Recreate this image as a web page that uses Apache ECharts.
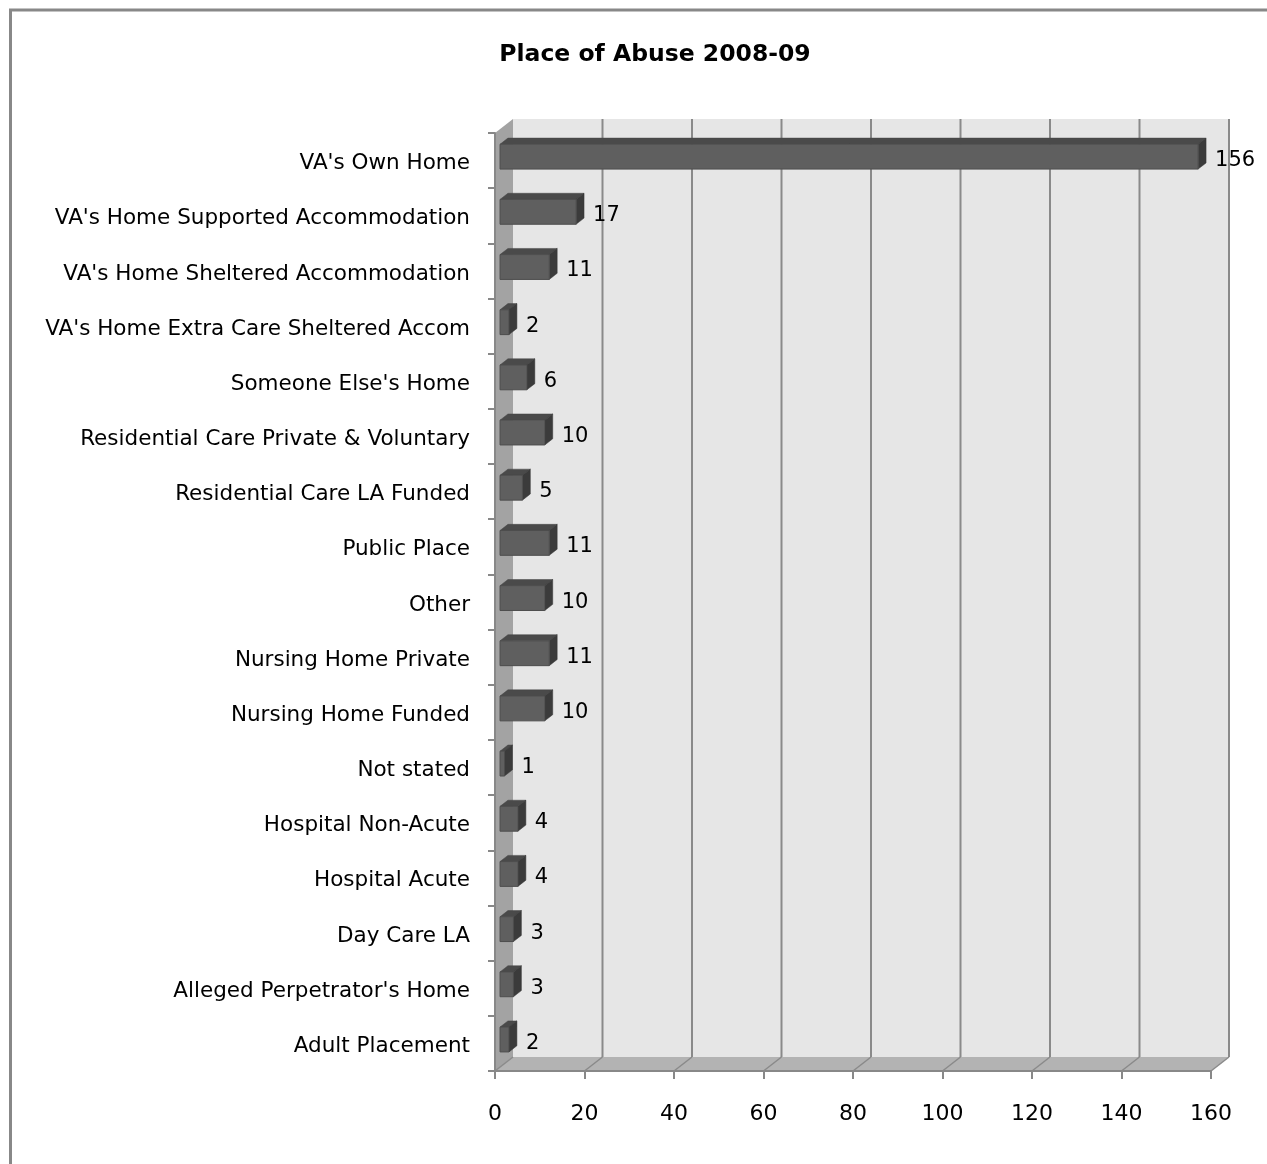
<!DOCTYPE html>
<html>
<head>
<meta charset="utf-8">
<title>Place of Abuse 2008-09</title>
<script src="https://cdn.jsdelivr.net/npm/echarts@6/dist/echarts.min.js"></script>
<style>
  html, body { margin: 0; padding: 0; background: #ffffff; }
  #chart { width: 1267px; height: 1164px; }
</style>
</head>
<body>
<div id="chart"></div>
<script>
// Places where abuse took place, listed top to bottom
const categories = [
  "VA's Own Home",
  "VA's Home Supported Accommodation",
  "VA's Home Sheltered Accommodation",
  "VA's Home Extra Care Sheltered Accom",
  "Someone Else's Home",
  "Residential Care Private & Voluntary",
  "Residential Care LA Funded",
  "Public Place",
  "Other",
  "Nursing Home Private",
  "Nursing Home Funded",
  "Not stated",
  "Hospital Non-Acute",
  "Hospital Acute",
  "Day Care LA",
  "Alleged Perpetrator's Home",
  "Adult Placement"
];
const counts = [156, 17, 11, 2, 6, 10, 5, 11, 10, 11, 10, 1, 4, 4, 3, 3, 2];
const xTicks = [0, 20, 40, 60, 80, 100, 120, 140, 160];

// Oblique projection used for the 3-D look: depth of the plot box
const DX = 18, DY = -14;
// Bars sit in the middle of the depth
const F1 = 0.28, F2 = 0.72;
const BAR_RATIO = 0.45;
const FONT = '"DejaVu Sans", "Open Sans", sans-serif';

const chart = echarts.init(document.getElementById('chart'));

function renderWalls(params, api) {
  const cs = params.coordSys;
  const x0 = cs.x, x1 = cs.x + cs.width;
  const yTop = cs.y, yBot = cs.y + cs.height;
  const children = [];
  // back wall
  children.push({
    type: 'polygon',
    shape: { points: [[x0 + DX, yTop + DY], [x1 + DX, yTop + DY], [x1 + DX, yBot + DY], [x0 + DX, yBot + DY]] },
    style: { fill: '#e6e6e6' }
  });
  // left side wall
  children.push({
    type: 'polygon',
    shape: { points: [[x0, yTop], [x0 + DX, yTop + DY], [x0 + DX, yBot + DY], [x0, yBot]] },
    style: { fill: '#a3a3a3' }
  });
  // floor
  children.push({
    type: 'polygon',
    shape: { points: [[x0, yBot], [x0 + DX, yBot + DY], [x1 + DX, yBot + DY], [x1, yBot]] },
    style: { fill: '#b3b3b3' }
  });
  // gridlines on the back wall and across the floor
  xTicks.forEach(function (t) {
    const px = api.coord([t, 0])[0];
    if (t !== 0) {
      children.push({
        type: 'line',
        shape: { x1: px + DX, y1: yTop + DY, x2: px + DX, y2: yBot + DY },
        style: { stroke: '#8a8a8a', lineWidth: 2 }
      });
    }
    children.push({
      type: 'line',
      shape: { x1: px, y1: yBot, x2: px + DX, y2: yBot + DY },
      style: { stroke: '#8a8a8a', lineWidth: 1.5 }
    });
  });
  return { type: 'group', children: children };
}

function renderBar(params, api) {
  const v = api.value(0);
  const cat = api.value(1);
  const start = api.coord([0, cat]);
  const end = api.coord([v, cat]);
  const band = api.size([0, 1])[1];
  const h = band * BAR_RATIO;
  const fx = DX * F1, fy = DY * F1;
  const bx = DX * F2, by = DY * F2;
  const xl = start[0], xr = end[0];
  const yt = start[1] - h / 2, yb = start[1] + h / 2;
  const front = [[xl + fx, yt + fy], [xr + fx, yt + fy], [xr + fx, yb + fy], [xl + fx, yb + fy]];
  const top = [[xl + fx, yt + fy], [xl + bx, yt + by], [xr + bx, yt + by], [xr + fx, yt + fy]];
  const side = [[xr + fx, yt + fy], [xr + bx, yt + by], [xr + bx, yb + by], [xr + fx, yb + fy]];
  return {
    type: 'group',
    children: [
      { type: 'polygon', shape: { points: top }, style: { fill: '#4a4a4a', stroke: '#444444', lineWidth: 0.5 } },
      { type: 'polygon', shape: { points: side }, style: { fill: '#3b3b3b', stroke: '#363636', lineWidth: 0.5 } },
      { type: 'polygon', shape: { points: front }, style: { fill: '#5f5f5f', stroke: '#4d4d4d', lineWidth: 1 } },
      {
        type: 'text',
        style: {
          text: String(v),
          x: xr + bx + 9,
          y: start[1] + fy + 4,
          fill: '#000000',
          font: '21px ' + FONT,
          textAlign: 'left',
          textVerticalAlign: 'middle'
        }
      }
    ]
  };
}

chart.setOption({
  animation: false,
  backgroundColor: '#ffffff',
  title: {
    text: 'Place of Abuse 2008-09',
    left: 650,
    top: 38,
    textAlign: 'center',
    textStyle: { fontFamily: FONT, fontSize: 23.5, fontWeight: 'bold', color: '#000000' }
  },
  graphic: [{
    type: 'polyline',
    shape: { points: [[10.5, 1200], [10.5, 10], [1300, 10]] },
    style: { stroke: '#888888', lineWidth: 3, fill: null },
    silent: true
  }],
  grid: { left: 495, right: 56, top: 133, bottom: 93, containLabel: false },
  xAxis: {
    type: 'value',
    min: 0,
    max: 160,
    interval: 20,
    axisLine: { show: true, lineStyle: { color: '#888888', width: 2 } },
    axisTick: { show: true, length: 8, lineStyle: { color: '#888888', width: 2 } },
    splitLine: { show: false },
    axisLabel: { margin: 32, fontFamily: FONT, fontSize: 22, color: '#000000' }
  },
  yAxis: {
    type: 'category',
    data: categories,
    inverse: true,
    axisLine: { show: true, lineStyle: { color: '#888888', width: 2 } },
    axisTick: { show: true, length: 7, lineStyle: { color: '#888888', width: 2 } },
    axisLabel: {
      margin: 25,
      formatter: function (v) { return '{c|' + v + '}'; },
      rich: {
        c: { fontFamily: FONT, fontSize: 21.5, color: '#000000', padding: [6, 0, 0, 0] }
      }
    }
  },
  series: [
    {
      type: 'custom',
      name: 'walls',
      z: 0,
      silent: true,
      clip: false,
      renderItem: renderWalls,
      data: [[0, 0]]
    },
    {
      type: 'custom',
      name: 'Place of Abuse',
      z: 2,
      clip: false,
      renderItem: renderBar,
      encode: { x: 0, y: 1 },
      data: counts.map(function (v, i) { return [v, i]; })
    }
  ]
});
</script>
</body>
</html>
